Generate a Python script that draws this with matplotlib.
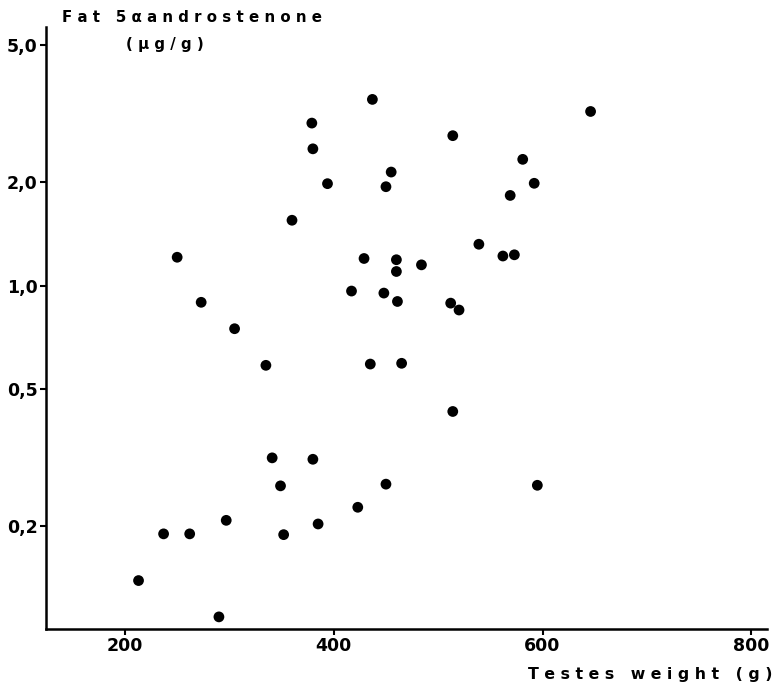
import matplotlib
matplotlib.use("Agg")
import matplotlib.pyplot as plt

# testes weight (g) vs fat 5alpha-androstenone (ug/g)
testes = [437, 379, 380, 514, 455, 450, 394, 360, 539, 250,
          429, 460, 460, 484, 417, 448, 461, 512, 520, 273,
          305, 646, 581, 592, 569, 562, 573, 335, 435, 465,
          514, 341, 380, 349, 450, 595, 423, 297, 385, 237,
          262, 352, 213, 290]
andro = [3.48, 2.97, 2.50, 2.73, 2.14, 1.94, 1.98, 1.55, 1.32, 1.21,
         1.20, 1.19, 1.10, 1.15, 0.965, 0.952, 0.90, 0.89, 0.85, 0.895,
         0.75, 3.21, 2.33, 1.985, 1.83, 1.22, 1.23, 0.587, 0.592, 0.595,
         0.431, 0.316, 0.313, 0.262, 0.265, 0.263, 0.227, 0.208, 0.203, 0.190,
         0.190, 0.189, 0.139, 0.109]

xticks = [200, 400, 600, 800]
yticks = [0.2, 0.5, 1.0, 2.0, 5.0]
ylabels = ["0,2", "0,5", "1,0", "2,0", "5,0"]

narrow = ["Liberation Sans Narrow", "DejaVu Sans"]

fig = plt.figure(figsize=(7.75, 6.87), dpi=100)
ax = fig.add_axes([0.0594, 0.0844, 0.9303, 0.8763])

ax.scatter(testes, andro, s=60, color="black", edgecolors="none", zorder=3)

ax.set_yscale("log")
ax.set_xlim(124.4, 815)
ax.set_ylim(0.1005, 5.65)

ax.set_xticks(xticks)
ax.set_xticklabels([str(t) for t in xticks], fontsize=12.5, fontweight="bold",
                   family=narrow)
ax.set_yticks(yticks)
ax.set_yticklabels(ylabels, fontsize=12.5, fontweight="bold", family=narrow)
ax.minorticks_off()
ax.tick_params(axis="both", direction="out", length=4, width=1.5, pad=2)

for side in ["top", "right"]:
    ax.spines[side].set_visible(False)
for side in ["left", "bottom"]:
    ax.spines[side].set_linewidth(1.8)

def spaced(s):
    return " ".join(s)

fig.text(62 / 775, 1 - 17 / 687, spaced("Fat") + "   " + spaced("5α") + " " + spaced("androstenone"),
         fontsize=10.8, fontweight="bold", ha="left", va="center")
fig.text(165 / 775, 1 - 45 / 687, spaced("(μg/g)"),
         fontsize=10.8, fontweight="bold", ha="center", va="center")
fig.text(773 / 775, 1 - 675 / 687, spaced("Testes") + "   " + spaced("weight") + "   " + spaced("(g)"),
         fontsize=11.3, fontweight="bold", ha="right", va="center")

fig.savefig("out.png", dpi=100)
